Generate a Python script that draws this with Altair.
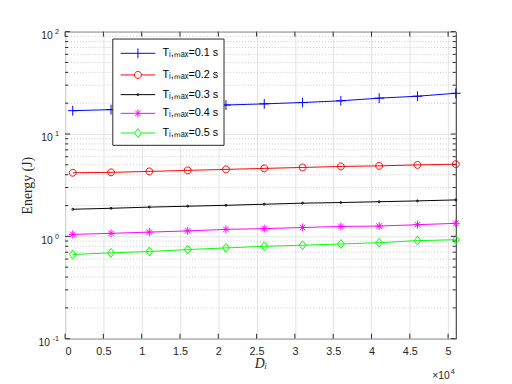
import altair as alt
import pandas as pd

# ---------------- data ----------------
x_vals = [1000, 6000, 11000, 16000, 21000, 26000, 31000, 36000, 41000, 46000, 51000]
series_names = ["Tᵢ,ₘₐₓ=0.1 s", "Tᵢ,ₘₐₓ=0.2 s", "Tᵢ,ₘₐₓ=0.3 s", "Tᵢ,ₘₐₓ=0.4 s", "Tᵢ,ₘₐₓ=0.5 s"]
energy_01 = [16.9, 17.3, 17.9, 18.5, 19.2, 19.7, 20.3, 21.1, 22.4, 23.4, 25.0]
energy_02 = [4.18, 4.22, 4.31, 4.41, 4.51, 4.61, 4.71, 4.82, 4.88, 4.99, 5.07]
energy_03 = [1.84, 1.88, 1.93, 1.97, 2.01, 2.06, 2.11, 2.14, 2.18, 2.22, 2.27]
energy_04 = [1.045, 1.07, 1.10, 1.13, 1.17, 1.19, 1.22, 1.25, 1.26, 1.30, 1.34]
energy_05 = [0.665, 0.69, 0.711, 0.743, 0.771, 0.80, 0.819, 0.843, 0.867, 0.908, 0.927]
series_colors = ["#0000FF", "#FF0000", "#000000", "#FF00FF", "#00FF00"]

x_tick_values = [0, 5000, 10000, 15000, 20000, 25000, 30000, 35000, 40000, 45000, 50000]
y_major = [0.1, 1, 10, 100]
y_label_base = ["10", "10", "10", "10"]
y_label_exp = ["-1", "0", "1", "2"]
y_minor = [0.2, 0.3, 0.4, 0.5, 0.6, 0.7, 0.8, 0.9,
           2, 3, 4, 5, 6, 7, 8, 9,
           20, 30, 40, 50, 60, 70, 80, 90]
x_axis_title = "Dᵢ"
y_axis_title = "Energy (J)"
x_exp_base = "×10"
x_exp_power = "4"

# ---------------- layout / style ----------------
W, H = 397, 312
AX = "#262626"

rows = []
for name, vals in zip(series_names, [energy_01, energy_02, energy_03, energy_04, energy_05]):
    for xv, ev in zip(x_vals, vals):
        rows.append({"series": name, "x": xv, "energy": ev})
df = pd.DataFrame(rows)

xscale = alt.Scale(domain=[0, 51000], nice=False, zero=False)
yscale = alt.Scale(type="log", domain=[0.1, 100], nice=False)
cscale = alt.Scale(domain=series_names, range=series_colors)

xaxis = alt.Axis(values=x_tick_values, labelExpr="datum.value/10000 + ''",
                 grid=True, gridColor="#e3e3e3", ticks=False, domain=False,
                 labelPadding=7, titlePadding=0,
                 titleFont="Liberation Serif", titleFontStyle="italic",
                 titleFontWeight="normal", titleFontSize=14, titleColor=AX)
yaxis = alt.Axis(values=y_major, labels=False,
                 grid=True, gridColor="#e3e3e3", ticks=False, domain=False,
                 titlePadding=31,
                 titleFont="Liberation Serif", titleFontWeight="normal",
                 titleFontSize=14, titleColor=AX)

def X(field):
    return alt.X(field, scale=xscale, axis=xaxis, title=x_axis_title)

def Y(field):
    return alt.Y(field, scale=yscale, axis=yaxis, title=y_axis_title)

# plot markers (unit = sqrt(size)/2 px)
marker_paths = [
    "M-1,0H1M0,-1V1",
    "M0.7,0A0.7,0.7 0 1,1 -0.7,0A0.7,0.7 0 1,1 0.7,0Z",
    "M0.2,0A0.2,0.2 0 1,1 -0.2,0A0.2,0.2 0 1,1 0.2,0Z",
    "M-0.8,0H0.8M0,-0.8V0.8M-0.57,-0.57L0.57,0.57M-0.57,0.57L0.57,-0.57",
    "M0,-0.9L0.7,0L0,0.9L-0.7,0Z",
]
# legend symbols: line + marker
legend_paths = [
    "M-1.85,0H1.85M0,-0.53V0.53",
    "M-1.85,0H-0.37M0.37,0H1.85M0.37,0A0.37,0.37 0 1,1 -0.37,0A0.37,0.37 0 1,1 0.37,0Z",
    "M-1.85,0H1.85M0.1,0A0.1,0.1 0 1,1 -0.1,0A0.1,0.1 0 1,1 0.1,0Z",
    "M-1.85,0H1.85M0,-0.42V0.42M-0.3,-0.3L0.3,0.3M-0.3,0.3L0.3,-0.3",
    "M-1.85,0H-0.37M0.37,0H1.85M0,-0.47L0.37,0L0,0.47L-0.37,0Z",
]

leg = alt.Legend(
    title=None, orient="none", legendX=48, legendY=7, padding=5, rowPadding=4,
    symbolSize=361, symbolStrokeWidth=1, symbolOffset=11, labelOffset=15,
    symbolOpacity=1, labelFont="Liberation Sans", labelFontSize=11, labelColor="black",
    fillColor="white", strokeColor=AX, cornerRadius=0, labelLimit=300,
)

def C():
    return alt.Color("series:N", scale=cscale, legend=leg)

base = alt.Chart(df)

minor_grid = alt.Chart(pd.DataFrame({"v": y_minor})).mark_rule(
    color="#c8c8c8", strokeDash=[1, 2], strokeWidth=1
).encode(y=Y("v:Q"), x=alt.value(0), x2=alt.value(W))

lines = base.mark_line(strokeWidth=1).encode(x=X("x:Q"), y=Y("energy:Q"), color=C())

point_layers = []
for name, path in zip(series_names, marker_paths):
    point_layers.append(
        base.transform_filter(alt.datum.series == name).mark_point(
            shape=path, size=100, strokeWidth=1, filled=False, opacity=1
        ).encode(x=X("x:Q"), y=Y("energy:Q"), color=C())
    )

legend_layer = base.mark_point(opacity=0, filled=False, size=10).encode(
    x=X("x:Q"), y=Y("energy:Q"), color=C(),
    shape=alt.Shape("series:N", scale=alt.Scale(domain=series_names, range=legend_paths), legend=leg),
)

ymaj_df = pd.DataFrame({"v": y_major})
ymin_df = pd.DataFrame({"v": y_minor})
xt_df = pd.DataFrame({"v": x_tick_values})
ylab_df = pd.DataFrame({"v": y_major, "b": y_label_base, "e": y_label_exp})

def yticks(d, x0, x1):
    return alt.Chart(d).mark_rule(color=AX, strokeWidth=1).encode(
        y=Y("v:Q"), x=alt.value(x0), x2=alt.value(x1))

def xticks(y0, y1):
    return alt.Chart(xt_df).mark_rule(color=AX, strokeWidth=1).encode(
        x=X("v:Q"), y=alt.value(y0), y2=alt.value(y1))

tick_layers = [
    yticks(ymaj_df, 0, 5), yticks(ymaj_df, W, W - 5),
    yticks(ymin_df, 0, 3), yticks(ymin_df, W, W - 3),
    xticks(H, H - 5), xticks(0, 5),
]

# y tick labels: 10 with superscript exponent
ylab = alt.Chart(ylab_df)
ylab_base_pos = ylab.transform_filter(alt.datum.v >= 1).mark_text(
    align="right", baseline="alphabetic", dy=7.5, font="Liberation Sans", fontSize=10.5, color=AX
).encode(y=Y("v:Q"), x=alt.value(-12.5), text="b:N")
ylab_base_neg = ylab.transform_filter(alt.datum.v < 1).mark_text(
    align="right", baseline="alphabetic", dy=7.5, font="Liberation Sans", fontSize=10.5, color=AX
).encode(y=Y("v:Q"), x=alt.value(-15.3), text="b:N")
ylab_exp = ylab.mark_text(
    align="right", baseline="alphabetic", dy=2.5, font="Liberation Sans", fontSize=7.5, color=AX
).encode(y=Y("v:Q"), x=alt.value(-6), text="e:N")

exp_df = pd.DataFrame({"b": [x_exp_base], "e": [x_exp_power]})
exp_base = alt.Chart(exp_df).mark_text(
    align="right", baseline="alphabetic", font="Liberation Sans", fontSize=10.5, color=AX
).encode(x=alt.value(W - 6), y=alt.value(H + 40.5), text="b:N")
exp_pow = alt.Chart(exp_df).mark_text(
    align="right", baseline="alphabetic", font="Liberation Sans", fontSize=7.5, color=AX
).encode(x=alt.value(W - 1), y=alt.value(H + 36), text="e:N")

chart = alt.layer(
    minor_grid, lines, *point_layers, legend_layer, *tick_layers,
    ylab_base_pos, ylab_base_neg, ylab_exp, exp_base, exp_pow
).properties(
    width=W, height=H,
    autosize=alt.AutoSizeParams(type="none"),
    padding={"left": 58, "top": 21, "right": 49, "bottom": 43},
).configure_view(
    stroke=AX, strokeWidth=1
).configure_axis(
    labelFont="Liberation Sans", labelFontSize=11, labelColor=AX,
)

chart.save("out.html", embed_options={"renderer": "svg", "actions": False})
